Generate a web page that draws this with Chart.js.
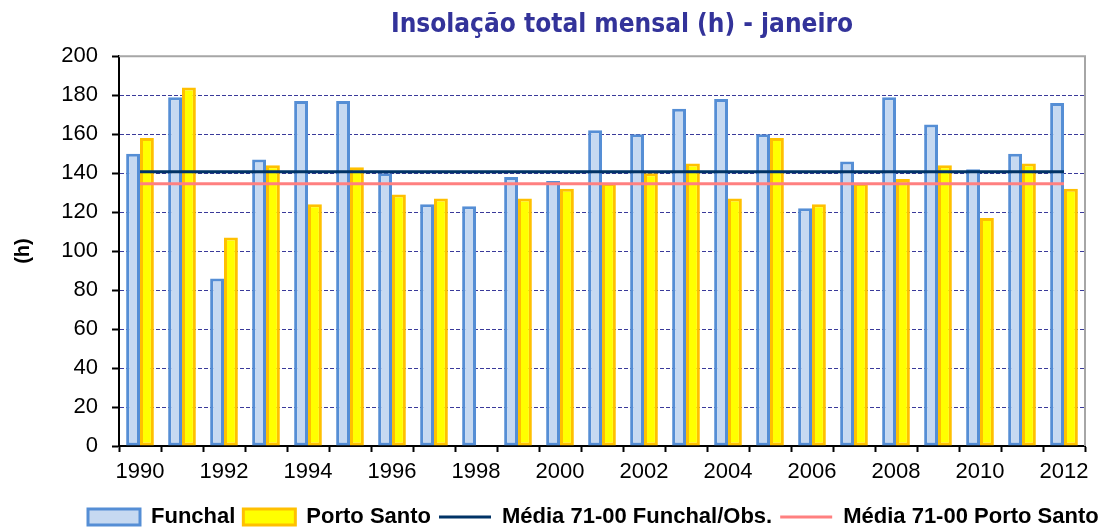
<!DOCTYPE html>
<html>
<head>
<meta charset="utf-8">
<script src="https://cdn.jsdelivr.net/npm/chart.js@4.4.1/dist/chart.umd.min.js"></script>
<style>
  body { margin: 0; background: #fff; }
  #wrap { width: 1109px; height: 527px; position: relative; }
</style>
</head>
<body>
<div id="wrap"><canvas id="chartInsolacao"></canvas></div>
<script>
var anos = ['1990', '1991', '1992', '1993', '1994', '1995', '1996', '1997', '1998', '1999', '2000', '2001',
            '2002', '2003', '2004', '2005', '2006', '2007', '2008', '2009', '2010', '2011', '2012'];
var funchal = [150, 179, 86, 147, 177, 177, 140, 124, 123, 138, 136, 162,
               160, 173, 178, 160, 122, 146, 179, 165, 142, 150, 176];
var portoSanto = [158, 184, 107, 144, 124, 143, 129, 127, null, 127, 132, 135,
                  140, 145, 127, 158, 124, 135, 137, 144, 117, 145, 132];
var mediaFunchal = [140.7, 140.7, 140.7, 140.7, 140.7, 140.7, 140.7, 140.7, 140.7, 140.7, 140.7, 140.7,
                    140.7, 140.7, 140.7, 140.7, 140.7, 140.7, 140.7, 140.7, 140.7, 140.7, 140.7];
var mediaPortoSanto = [134.6, 134.6, 134.6, 134.6, 134.6, 134.6, 134.6, 134.6, 134.6, 134.6, 134.6, 134.6,
                       134.6, 134.6, 134.6, 134.6, 134.6, 134.6, 134.6, 134.6, 134.6, 134.6, 134.6];
var yTicks = [0, 20, 40, 60, 80, 100, 120, 140, 160, 180, 200];

// moldura cinzenta (topo e direita) da area do grafico
var moldura = {
    id: 'moldura',
    beforeDatasetsDraw: function (chart) {
        var a = chart.chartArea, c = chart.ctx;
        c.save();
        c.strokeStyle = '#a6a6a6';
        c.lineWidth = 2;
        c.beginPath();
        c.moveTo(a.left, a.top);
        c.lineTo(a.right, a.top);
        c.lineTo(a.right, a.bottom);
        c.stroke();
        c.restore();
    }
};

// titulo e legenda nao estao centrados no canvas
var desloca = {
    id: 'desloca',
    afterLayout: function (chart) {
        var t = chart.titleBlock;
        var dt = 622 - (t.left + t.right) / 2;
        t.left += dt; t.right += dt;
        var l = chart.legend;
        var pad = l.options.labels.padding;
        var ini = (l.left + pad + l.right - l.lineWidths[0]) / 2;
        var dl = 88 - ini;
        l.left += dl; l.right += dl;
        l.top += 11; l.bottom += 11;
    }
};

var fonte = "'Liberation Sans', Arial, sans-serif";

new Chart(document.getElementById('chartInsolacao'), {
    type: 'bar',
    data: {
        labels: anos,
        datasets: [
            {
                label: 'Funchal',
                data: funchal,
                backgroundColor: '#c6d9f1',
                borderColor: '#558ed5',
                borderWidth: 3,
                borderSkipped: false,
                pointStyle: 'rect',
                categoryPercentage: 0.66,
                barPercentage: 1.0,
                order: 1
            },
            {
                label: 'Porto Santo',
                data: portoSanto,
                backgroundColor: '#ffff00',
                borderColor: '#ffc000',
                borderWidth: 3,
                borderSkipped: false,
                pointStyle: 'rect',
                categoryPercentage: 0.66,
                barPercentage: 1.0,
                order: 1
            },
            {
                label: 'Média 71-00 Funchal/Obs.',
                type: 'line',
                data: mediaFunchal,
                borderColor: '#003366',
                backgroundColor: '#003366',
                borderWidth: 3,
                pointRadius: 0,
                pointStyle: 'line',
                fill: false,
                order: 0
            },
            {
                label: 'Média 71-00 Porto Santo',
                type: 'line',
                data: mediaPortoSanto,
                borderColor: '#ff8080',
                backgroundColor: '#ff8080',
                borderWidth: 3,
                pointRadius: 0,
                pointStyle: 'line',
                fill: false,
                order: 0
            }
        ]
    },
    options: {
        responsive: true,
        maintainAspectRatio: false,
        animation: false,
        layout: { padding: { left: 0, right: 24, top: 0, bottom: 0 } },
        plugins: {
            title: {
                display: true,
                text: 'Insolação total mensal (h) - janeiro',
                color: '#33339a',
                font: { family: "'DejaVu Sans Condensed', 'DejaVu Sans', sans-serif", size: 26, weight: 'bold', lineHeight: 1.2 },
                padding: { top: 10, bottom: 15 }
            },
            legend: {
                position: 'bottom',
                labels: {
                    sort: function (a, b) { return a.datasetIndex - b.datasetIndex; },
                    usePointStyle: true,
                    pointStyleWidth: 52,
                    boxHeight: 16,
                    padding: 8,
                    color: '#000',
                    font: { family: fonte, size: 22, weight: 'bold' }
                }
            },
            tooltip: { enabled: false }
        },
        scales: {
            x: {
                offset: true,
                afterFit: function (s) { s.height = 41; },
                grid: {
                    offset: true,
                    drawOnChartArea: false,
                    drawTicks: true,
                    tickLength: 6,
                    tickColor: '#000',
                    tickWidth: 2
                },
                border: { color: '#000', width: 2 },
                ticks: {
                    autoSkip: false,
                    maxRotation: 0,
                    padding: 7,
                    color: '#000',
                    font: { family: fonte, size: 22 },
                    callback: function (v, i) { return i % 2 === 0 ? anos[i] : ''; }
                }
            },
            y: {
                min: 0,
                max: 200,
                afterFit: function (s) { s.width = 119; },
                afterBuildTicks: function (s) { s.ticks = yTicks.map(function (v) { return { value: v }; }); },
                grid: {
                    color: function (ctx) { return ctx.tick && ctx.tick.value === 200 ? 'rgba(0,0,0,0)' : '#3a3a9a'; },
                    lineWidth: 1,
                    tickColor: '#000',
                    tickLength: 7,
                    tickWidth: 2
                },
                border: { color: '#000', width: 2, dash: [4, 2] },
                ticks: {
                    padding: 14,
                    color: '#000',
                    font: { family: fonte, size: 22 }
                },
                title: {
                    display: true,
                    text: '(h)',
                    color: '#000',
                    font: { family: fonte, size: 20, weight: 'bold' },
                    padding: { top: 11, bottom: 0 }
                }
            }
        }
    },
    plugins: [moldura, desloca]
});
</script>
</body>
</html>
